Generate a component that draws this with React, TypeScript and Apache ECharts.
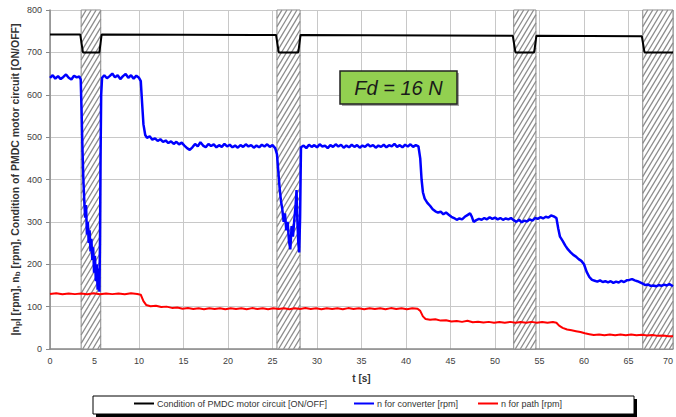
import React, { useEffect, useRef } from "react";
import * as echarts from "echarts";

const xTicks = { min: 0, max: 70, interval: 5 };
const yTicks = { min: 0, max: 800, interval: 100 };

const hatchStart = [3.5, 25.5, 52.1, 66.6];
const hatchEnd = [5.7, 28.1, 54.6, 70];

const circuitData: number[][] = [
  [0, 742], [3.4, 742], [3.7, 700], [5.55, 700], [5.8, 742],
  [25.4, 741], [25.7, 700], [27.9, 700], [28.15, 741],
  [52.0, 739], [52.3, 700], [54.4, 700], [54.65, 739],
  [66.5, 738], [66.8, 700], [70, 700],
];

const converterData: number[][] = [
  [0, 640], [0.3, 646], [0.6, 638], [0.9, 644], [1.2, 637], [1.5, 642], [1.8, 648], [2.1, 640], [2.4, 636], [2.7, 645], [3.0, 641], [3.3, 643], [3.45, 636],
  [3.55, 560], [3.65, 470], [3.75, 400], [3.85, 350], [3.95, 310], [4.05, 340], [4.15, 270], [4.25, 300], [4.35, 250], [4.45, 280], [4.55, 230], [4.65, 260], [4.75, 210], [4.85, 240], [4.95, 180], [5.05, 220], [5.15, 160], [5.25, 200], [5.35, 140], [5.45, 190], [5.55, 135], [5.62, 260], [5.68, 450], [5.75, 600], [5.85, 640],
  [6.1, 646], [6.4, 639], [6.7, 644], [7.0, 650], [7.3, 641], [7.6, 646], [7.9, 637], [8.2, 644], [8.5, 649], [8.8, 640], [9.1, 646], [9.4, 638], [9.7, 645], [10.0, 640], [10.2, 632],
  [10.35, 580], [10.5, 530], [10.7, 505], [10.9, 498], [11.2, 502], [11.5, 494], [11.8, 497], [12.1, 491], [12.4, 495], [12.7, 489], [13.0, 492], [13.3, 486], [13.6, 490], [13.9, 484], [14.2, 489], [14.5, 483], [14.8, 487], [15.1, 480], [15.4, 474], [15.7, 470], [16.0, 476], [16.3, 484], [16.6, 478], [16.9, 488], [17.2, 480], [17.5, 476], [17.8, 484], [18.1, 479], [18.4, 483], [18.7, 476], [19.0, 481], [19.3, 477], [19.6, 484], [19.9, 478], [20.2, 482], [20.5, 476], [20.8, 480], [21.1, 475], [21.4, 481], [21.7, 477], [22.0, 483], [22.3, 478], [22.6, 481], [22.9, 475], [23.2, 480], [23.5, 476], [23.8, 482], [24.1, 478], [24.4, 483], [24.7, 477], [25.0, 481], [25.3, 474],
  [25.5, 460], [25.65, 420], [25.8, 380], [25.95, 350], [26.1, 330], [26.25, 300], [26.4, 320], [26.55, 280], [26.7, 300], [26.85, 255], [27.0, 235], [27.15, 290], [27.3, 265], [27.45, 305], [27.6, 340], [27.7, 375], [27.8, 300], [27.9, 250], [28.0, 228], [28.1, 310], [28.2, 476],
  [28.5, 480], [28.8, 474], [29.1, 482], [29.4, 477], [29.7, 481], [30.0, 476], [30.3, 483], [30.6, 478], [30.9, 480], [31.2, 474], [31.5, 481], [31.8, 477], [32.1, 483], [32.4, 478], [32.7, 482], [33.0, 475], [33.3, 480], [33.6, 476], [33.9, 482], [34.2, 477], [34.5, 481], [34.8, 475], [35.1, 480], [35.4, 477], [35.7, 483], [36.0, 478], [36.3, 481], [36.6, 475], [36.9, 480], [37.2, 477], [37.5, 482], [37.8, 476], [38.1, 481], [38.4, 478], [38.7, 484], [39.0, 477], [39.3, 481], [39.6, 476], [39.9, 482], [40.2, 478], [40.5, 483], [40.8, 477], [41.1, 481], [41.4, 478],
  [41.6, 450], [41.75, 400], [41.9, 370], [42.1, 355], [42.4, 345], [42.7, 338], [43.0, 330], [43.3, 325], [43.6, 322], [43.9, 324], [44.2, 318], [44.5, 322], [44.8, 317], [45.1, 312], [45.4, 309], [45.7, 305], [46.0, 308], [46.3, 306], [46.6, 312], [46.9, 316], [47.2, 320], [47.4, 312], [47.6, 300], [47.9, 304], [48.2, 307], [48.5, 305], [48.8, 309], [49.1, 306], [49.4, 311], [49.7, 307], [50.0, 310], [50.3, 306], [50.6, 309], [50.9, 305], [51.2, 308], [51.5, 306], [51.8, 309], [52.1, 304], [52.4, 300], [52.7, 305], [53.0, 299], [53.3, 303], [53.6, 301], [53.9, 306], [54.2, 303], [54.5, 309], [54.8, 307], [55.1, 311], [55.4, 308], [55.7, 312], [56.0, 310], [56.3, 315], [56.6, 313], [56.9, 309],
  [57.1, 285], [57.3, 265], [57.6, 255], [57.9, 244], [58.2, 235], [58.5, 228], [58.8, 222], [59.1, 218], [59.4, 212], [59.7, 208], [60.0, 200], [60.3, 182], [60.6, 170], [60.9, 163], [61.2, 161], [61.5, 159], [61.8, 162], [62.1, 158], [62.4, 160], [62.7, 157], [63.0, 160], [63.3, 156], [63.6, 159], [63.9, 157], [64.2, 161], [64.5, 158], [64.8, 162], [65.1, 163], [65.4, 165], [65.7, 162], [66.0, 160], [66.3, 157], [66.6, 154], [66.9, 151], [67.2, 152], [67.5, 149], [67.8, 150], [68.1, 148], [68.4, 151], [68.7, 149], [69.0, 152], [69.3, 150], [69.6, 153], [70, 148],
];

const pathData: number[][] = [
  [0, 130], [0.7, 131.5], [1.4, 129], [2.1, 131], [2.8, 129.5], [3.5, 131], [4.2, 129], [4.9, 131.5], [5.6, 129], [6.3, 131], [7.0, 129.5], [7.7, 131], [8.4, 129], [9.1, 131.5], [9.8, 130], [10.2, 128],
  [10.5, 113], [10.8, 104], [11.3, 101], [11.9, 102], [12.5, 99], [13.1, 100], [13.7, 97], [14.3, 98], [14.9, 95], [15.5, 96.5], [16.1, 94.5], [16.7, 96], [17.3, 94], [17.9, 96], [18.5, 94.5], [19.1, 96], [19.7, 94], [20.3, 96], [20.9, 94.5], [21.5, 96], [22.1, 94], [22.7, 96.5], [23.3, 94.5], [23.9, 96], [24.5, 94], [25.1, 96], [25.7, 94.5], [26.3, 96], [26.9, 94], [27.5, 96], [28.1, 94.5], [28.7, 96.5], [29.3, 94.5], [29.9, 96], [30.5, 94], [31.1, 96], [31.7, 94.5], [32.3, 96], [32.9, 94], [33.5, 96.5], [34.1, 94.5], [34.7, 96], [35.3, 94], [35.9, 96], [36.5, 94.5], [37.1, 96], [37.7, 94], [38.3, 96.5], [38.9, 94.5], [39.5, 96], [40.1, 94], [40.7, 96], [41.3, 95],
  [41.6, 90], [41.9, 77], [42.2, 71], [42.7, 69], [43.3, 70], [43.9, 67], [44.5, 68], [45.1, 65], [45.7, 66], [46.3, 64], [46.9, 66.5], [47.5, 63], [48.1, 64.5], [48.7, 62.5], [49.3, 64], [49.9, 62], [50.5, 63.5], [51.1, 62], [51.7, 64], [52.3, 62], [52.9, 63.5], [53.5, 62], [54.1, 64], [54.7, 62], [55.3, 63.5], [55.9, 62], [56.5, 63.5], [56.9, 62],
  [57.2, 55], [57.6, 50], [58.1, 46], [58.6, 44], [59.1, 42], [59.6, 40], [60.1, 37], [60.6, 35], [61.1, 33], [61.7, 34], [62.3, 32.5], [62.9, 34], [63.5, 32.5], [64.1, 34], [64.7, 32.5], [65.3, 34], [65.9, 32.5], [66.5, 33.5], [67.1, 32], [67.7, 33], [68.3, 31], [68.9, 32], [69.5, 30], [70, 30],
];

const seriesNames = [
  "Condition of PMDC motor circuit [ON/OFF]",
  "n for converter [rpm]",
  "n for path [rpm]",
];
const seriesColors = ["#000000", "#0000ff", "#ff0000"];
const yAxisName = "|n{s|p}| [rpm], n{s|b} [rpm], Condition of PMDC motor circuit [ON/OFF]";
const xAxisName = "t [s]";
const boxLabel = "Fd = 16 N";

const FONT = '"Liberation Sans", Arial, Helvetica, sans-serif';

export default function App() {
  const ref = useRef<HTMLDivElement>(null);

  useEffect(() => {
    if (!ref.current) return;
    const chart = echarts.init(ref.current, null, { renderer: "svg" });

    const renderHatch = (params: any, api: any) => {
      const x0 = api.value(0);
      const x1 = api.value(1);
      const p0 = api.coord([x0, yTicks.max]);
      const p1 = api.coord([x1, yTicks.min]);
      const L = p0[0], T = p0[1], R = p1[0], B = p1[1];
      const children: any[] = [
        {
          type: "rect",
          shape: { x: L, y: T, width: R - L, height: B - T },
          style: { fill: "#ffffff", stroke: "#8a8a8a", lineWidth: 1 },
        },
      ];
      const t = 0.6;
      const step = 5;
      for (let c = L + t * T; c <= R + t * B; c += step) {
        const yA = Math.max(T, (c - R) / t);
        const yB = Math.min(B, (c - L) / t);
        if (yB > yA) {
          children.push({
            type: "line",
            shape: { x1: c - t * yA, y1: yA, x2: c - t * yB, y2: yB },
            style: { stroke: "#8c8c8c", lineWidth: 1.3 },
          });
        }
      }
      return { type: "group", children };
    };

    const legendLefts = [134, 354, 478];

    const option: any = {
      animation: false,
      backgroundColor: "#ffffff",
      textStyle: { fontFamily: FONT },
      grid: { left: 50, right: 3, top: 10, bottom: 68, containLabel: false, outerBoundsMode: "none" },
      legend: seriesNames.map((n, i) => ({
        data: [{ name: n, icon: "rect" }],
        left: legendLefts[i],
        top: 399,
        padding: 0,
        itemWidth: 20,
        itemHeight: 2,
        itemGap: 0,
        z: 10,
        textStyle: { fontSize: 9, color: "#333", fontFamily: FONT, padding: [0, 0, 0, -2] },
      })),
      xAxis: {
        type: "value",
        min: xTicks.min,
        max: xTicks.max,
        interval: xTicks.interval,
        name: xAxisName,
        nameLocation: "middle",
        nameGap: 24,
        nameMoveOverlap: false,
        nameTextStyle: { fontWeight: "bold", fontSize: 10, color: "#333", fontFamily: FONT },
        axisLine: { lineStyle: { color: "#888", width: 1.5 } },
        axisTick: { show: false },
        axisLabel: { fontSize: 9, color: "#404040", margin: 7, fontFamily: FONT, alignMaxLabel: "right" },
        splitLine: { show: true, lineStyle: { color: "#c8c8c8" } },
      },
      yAxis: {
        type: "value",
        min: yTicks.min,
        max: yTicks.max,
        interval: yTicks.interval,
        name: yAxisName,
        nameLocation: "middle",
        nameGap: 29,
        nameMoveOverlap: false,
        nameRotate: 90,
        nameTextStyle: {
          fontWeight: "bold",
          fontSize: 10.5,
          color: "#333",
          fontFamily: FONT,
          rich: {
            s: { fontSize: 8, fontWeight: "bold", color: "#333", fontFamily: FONT, padding: [4, 0, 0, 0] },
          },
        },
        axisLine: { show: true, lineStyle: { color: "#888", width: 1.5 } },
        axisTick: { show: true, length: 4, lineStyle: { color: "#888" } },
        axisLabel: { fontSize: 9, color: "#404040", margin: 8, fontFamily: FONT },
        splitLine: { show: true, lineStyle: { color: "#c8c8c8" } },
      },
      graphic: [
        { type: "rect", z: 1, shape: { x: 96, y: 399, width: 541, height: 18 }, style: { fill: "#000" } },
        { type: "rect", z: 2, shape: { x: 93, y: 396, width: 541, height: 18 }, style: { fill: "#fff", stroke: "#000", lineWidth: 1 } },
        { type: "rect", z: 20, shape: { x: 342, y: 73, width: 117, height: 33 }, style: { fill: "rgba(0,0,0,0.35)" } },
        { type: "rect", z: 21, shape: { x: 340, y: 71, width: 117, height: 33 }, style: { fill: "#92d050", stroke: "#222", lineWidth: 1.5 } },
        {
          type: "text",
          z: 22,
          x: 398.5,
          y: 88,
          style: {
            text: boxLabel,
            fill: "#1a1a1a",
            font: `italic 20px ${FONT}`,
            align: "center",
            verticalAlign: "middle",
          },
        },
      ],
      series: [
        {
          type: "custom",
          name: "hatch",
          silent: true,
          z: 1,
          renderItem: renderHatch,
          data: hatchStart.map((s, i) => [s, hatchEnd[i], 0]),
          encode: { x: [0, 1], y: 2 },
        },
        {
          type: "line",
          name: seriesNames[0],
          data: circuitData,
          showSymbol: false,
          z: 3,
          color: seriesColors[0],
          lineStyle: { color: seriesColors[0], width: 2 },
        },
        {
          type: "line",
          name: seriesNames[1],
          data: converterData,
          showSymbol: false,
          z: 3,
          color: seriesColors[1],
          lineStyle: { color: seriesColors[1], width: 2.5 },
        },
        {
          type: "line",
          name: seriesNames[2],
          data: pathData,
          showSymbol: false,
          z: 3,
          color: seriesColors[2],
          lineStyle: { color: seriesColors[2], width: 2 },
        },
      ],
    };

    chart.setOption(option);
    return () => chart.dispose();
  }, []);

  return (
    <div
      ref={ref}
      style={{ position: "fixed", left: 0, top: 0, width: 676, height: 417, background: "#fff" }}
    />
  );
}
